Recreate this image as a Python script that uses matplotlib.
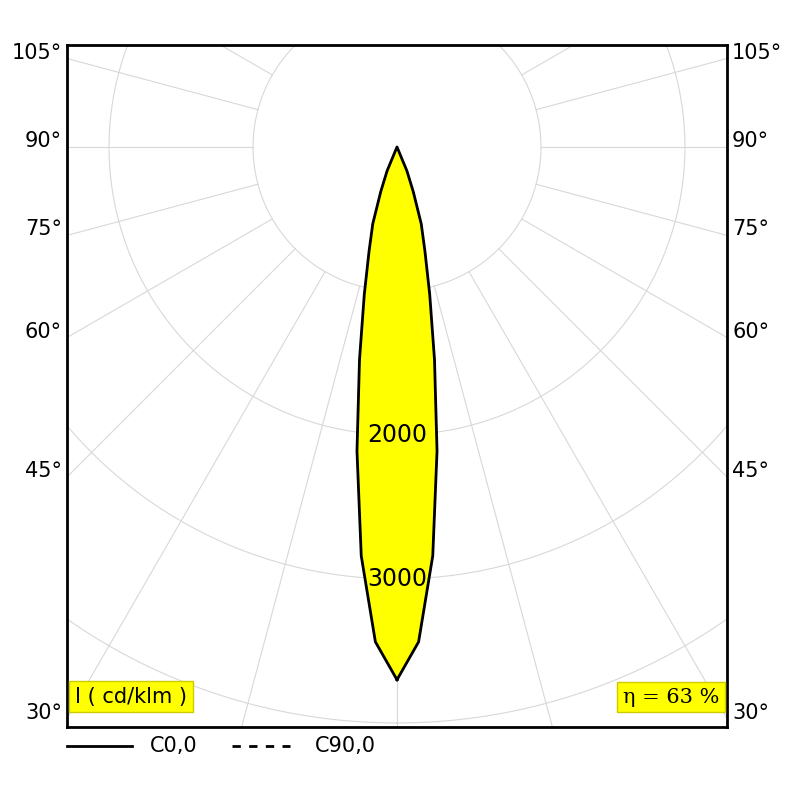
import numpy as np
import matplotlib
matplotlib.use("Agg")
import matplotlib.pyplot as plt

gamma = [0, 2.5, 5, 7.5, 10, 12.5, 15, 17.5, 20, 22.5, 25]
intensity = [3700, 3440, 2850, 2130, 1500, 1050, 750, 560, 330, 180, 0]
side_labels = [105, 90, 75, 60, 45, 30]
ring_values = [1000, 2000, 3000, 4000, 5000, 6000]
ring_labels = [2000, 3000]

fig = plt.figure(figsize=(8, 8), dpi=100)
ax = fig.add_axes([67/800, 73/800, 660/800, 682/800])
ax.set_xlim(-2292, 2292)
ax.set_ylim(4028, -708)
ax.set_xticks([]); ax.set_yticks([])
for s in ax.spines.values():
    s.set_linewidth(2)

t = np.linspace(0, 2*np.pi, 400)
for r in ring_values:
    ax.plot(r*np.sin(t), r*np.cos(t), color='#d8d8d8', lw=0.8, zorder=1)
for a in range(0, 360, 15):
    ar = np.radians(a)
    ax.plot([1000*np.sin(ar), 8000*np.sin(ar)], [1000*np.cos(ar), 8000*np.cos(ar)],
            color='#d8d8d8', lw=0.8, zorder=1)

g = np.radians(np.array(gamma))
I = np.array(intensity)
xs = np.concatenate([I*np.sin(g), (-I*np.sin(g))[::-1]])
ys = np.concatenate([I*np.cos(g), (I*np.cos(g))[::-1]])
ax.fill(xs, ys, color='#ffff00', zorder=2)
ax.plot(xs, ys, color='black', lw=2, zorder=3)
ax.plot(xs, ys, color='black', lw=1, ls='--', zorder=3)

for v in ring_labels:
    ax.text(0, v, str(v), ha='center', va='center', fontsize=17, zorder=4)

for lab in side_labels:
    ang = np.radians(90 - lab)
    y = 2292*np.tan(ang)
    yf = ax.transData.transform((0, y))[1] / 800
    fig.text(62/800, yf + 6/800, f"{lab}°", ha='right', va='center', fontsize=15)
    fig.text(732/800, yf + 6/800, f"{lab}°", ha='left', va='center', fontsize=15)

box = dict(facecolor='#ffff00', edgecolor='#cccc00', pad=4)
ax.text(0.012, 0.03, "I ( cd/klm )", transform=ax.transAxes, fontsize=15, bbox=box, va='bottom')
ax.text(0.988, 0.03, "η = 63 %", transform=ax.transAxes, fontsize=15, bbox=box, va='bottom', ha='right',
        family='DejaVu Serif')

fig.add_artist(plt.Line2D([67/800, 132/800], [54/800, 54/800], color='black', lw=2))
fig.text(150/800, 54/800, "C0,0", va='center', fontsize=15)
fig.add_artist(plt.Line2D([232/800, 290/800], [54/800, 54/800], color='black', lw=2, ls=(0, (3, 3))))
fig.text(315/800, 54/800, "C90,0", va='center', fontsize=15)

fig.savefig("out.png", dpi=100)
